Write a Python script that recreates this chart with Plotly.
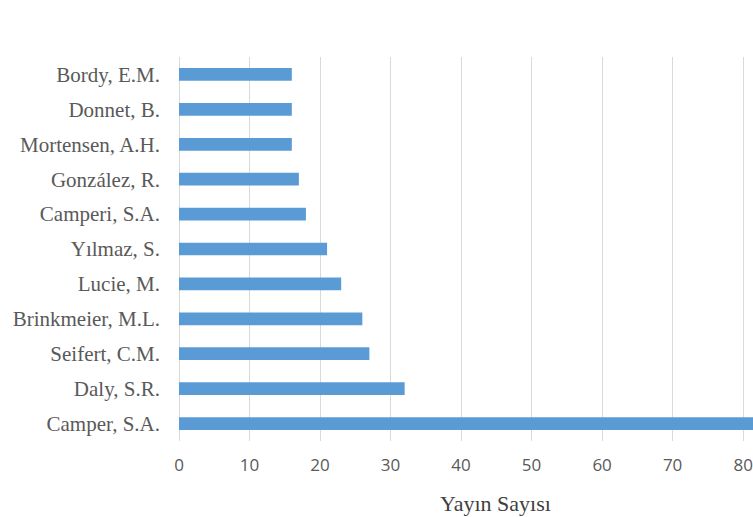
import plotly.graph_objects as go

authors = ["Camper, S.A.", "Daly, S.R.", "Seifert, C.M.", "Brinkmeier, M.L.", "Lucie, M.",
           "Yılmaz, S.", "Camperi, S.A.", "González, R.", "Mortensen, A.H.", "Donnet, B.", "Bordy, E.M."]
counts = [86, 32, 27, 26, 23, 21, 18, 17, 16, 16, 16]
x_ticks = [0, 10, 20, 30, 40, 50, 60, 70, 80]
x_title = "Yayın Sayısı"

fig = go.Figure(go.Bar(
    x=counts, y=authors, orientation="h",
    marker=dict(color="#5B9BD5", line=dict(width=0)),
    cliponaxis=True,
))

fig.update_layout(
    width=753, height=517,
    margin=dict(l=179, r=0, t=57, b=76),
    paper_bgcolor="white", plot_bgcolor="white",
    bargap=0.636,
    showlegend=False,
    xaxis=dict(
        range=[0, 81.4], tickvals=x_ticks, showgrid=True, gridcolor="#d9d9d9", gridwidth=1,
        zeroline=True, zerolinecolor="#d9d9d9", zerolinewidth=1, showline=False,
        tickfont=dict(family="Open Sans, Liberation Sans, sans-serif", size=17, color="#595959"),
        ticklabelstandoff=12,
    ),
    yaxis=dict(
        showgrid=False, showline=False, zeroline=False,
        tickfont=dict(family="Liberation Serif, serif", size=21, color="#595959"),
        ticklabelstandoff=18,
    ),
    annotations=[dict(
        text=x_title, xref="paper", yref="paper", x=0.552, y=-0.163,
        xanchor="center", yanchor="middle", showarrow=False,
        font=dict(family="Liberation Serif, serif", size=22, color="#404040"),
    )],
)

fig.write_html("out.html")
